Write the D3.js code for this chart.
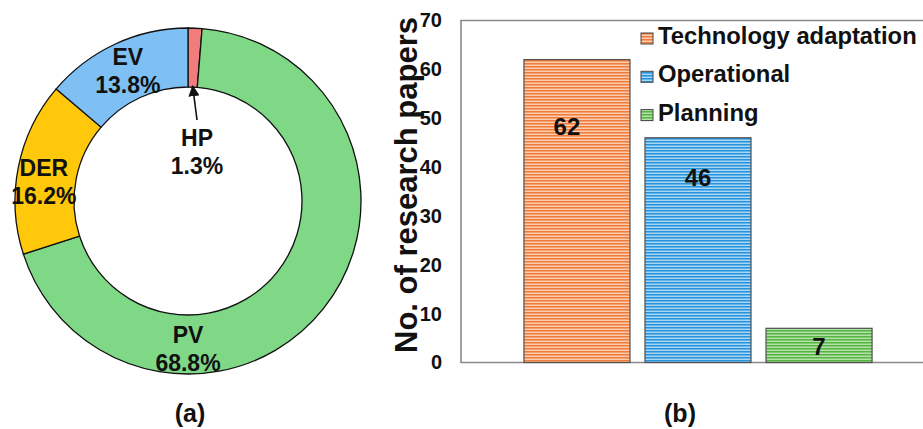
<!DOCTYPE html>
<html><head><meta charset="utf-8">
<script src="https://cdn.jsdelivr.net/npm/d3@7"></script>
<style>
html,body{margin:0;padding:0;background:#fff;}
svg{display:block;font-family:"Liberation Sans",Arial,sans-serif;font-weight:bold;}
.y-axis text{font-size:20px;font-weight:bold;font-family:"Liberation Sans",Arial,sans-serif;}
</style></head><body>
<svg id="chart" width="923" height="429"></svg>
<script>
// Panel (a): share of studies by resource type (percent)
const shareLabels = ["HP", "PV", "DER", "EV"];
const shareValues = [1.3, 68.8, 16.2, 13.8];
const shareColors = ["#F07C7C", "#7FD886", "#FFC80A", "#7FC0F4"];

// Panel (b): number of research papers per category
const paperCategories = ["Technology adaptation", "Operational", "Planning"];
const paperCounts = [62, 46, 7];
const yTicks = [0, 10, 20, 30, 40, 50, 60, 70];
// striped fills: [dark line, base, light line]
const stripeColors = [
  ["#EF7C3C", "#F5A271", "#FBCDAE"],
  ["#2A92DA", "#62B3E7", "#A9D6F2"],
  ["#56B443", "#82CB70", "#B6E1AA"]
];

(function () {
const svg = d3.select("#chart");
const defs = svg.append("defs");

// ---------- donut ----------
const cx = 188, cy = 201, rOut = 173, rIn = 114;
const pie = d3.pie().sort(null).value(d => d.v);
const arcs = pie(shareLabels.map((k, i) => ({k, v: shareValues[i], c: shareColors[i]})));
const arc = d3.arc().innerRadius(rIn).outerRadius(rOut);
const gA = svg.append("g").attr("transform", `translate(${cx},${cy})`);

gA.selectAll("path").data(arcs).join("path")
  .attr("d", arc)
  .attr("fill", d => d.data.c)
  .attr("stroke", "#111")
  .attr("stroke-width", 1.3);

function polar(angle, r) { return [r * Math.sin(angle), -r * Math.cos(angle)]; }

// label anchor for each slice
function labelPos(d) {
  const k = d.data.k;
  if (k === "PV") return polar(Math.PI, 147.5);
  if (k === "HP") return [9, -49];
  if (k === "DER") return polar(277.7 * Math.PI / 180, 145.5);
  return arc.centroid(d);
}

const lab = gA.selectAll("g.lab").data(arcs).join("g").attr("class", "lab")
  .attr("transform", d => `translate(${labelPos(d)})`);
lab.append("text").attr("text-anchor", "middle").attr("dominant-baseline", "central")
  .attr("y", -14).style("font-size", "23px").attr("fill", "#111").text(d => d.data.k);
lab.append("text").attr("text-anchor", "middle").attr("dominant-baseline", "central")
  .attr("y", 14).style("font-size", "23px").attr("fill", "#111").text(d => d.data.v.toFixed(1) + "%");

// arrow from the HP label to its thin slice
defs.append("marker").attr("id", "arrowHead").attr("viewBox", "0 0 10 10")
  .attr("refX", 9).attr("refY", 5).attr("markerWidth", 7).attr("markerHeight", 7)
  .attr("orient", "auto-start-reverse")
  .append("path").attr("d", "M0,0 L10,5 L0,10 Z").attr("fill", "#111");
const hp = arcs[0];
const tip = polar((hp.startAngle + hp.endAngle) / 2, rIn + 1);
gA.append("line").attr("x1", 9).attr("y1", -81).attr("x2", tip[0]).attr("y2", tip[1])
  .attr("stroke", "#111").attr("stroke-width", 1.6).attr("marker-end", "url(#arrowHead)");

svg.append("text").attr("x", 190).attr("y", 422).attr("text-anchor", "middle")
  .style("font-size", "25px").attr("fill", "#111").text("(a)");

// ---------- bar chart ----------
stripeColors.forEach((sc, i) => {
  const p = defs.append("pattern").attr("id", "stripe" + i)
    .attr("patternUnits", "userSpaceOnUse").attr("width", 8).attr("height", 3);
  p.append("rect").attr("width", 8).attr("height", 1).attr("y", 0).attr("fill", sc[0]);
  p.append("rect").attr("width", 8).attr("height", 1).attr("y", 1).attr("fill", sc[1]);
  p.append("rect").attr("width", 8).attr("height", 1).attr("y", 2).attr("fill", sc[2]);
});

const plotL = 461, plotR = 935, plotT = 20.5, plotB = 362.5;
const x = d3.scaleBand().domain(paperCategories).range([plotL, plotR])
  .paddingInner(0.124).paddingOuter(0.52);
const y = d3.scaleLinear().domain([0, 70]).range([plotB, plotT]);

// plot frame
svg.append("path")
  .attr("d", `M923,${plotT}H${plotL}V${plotB}H923`)
  .attr("fill", "none").attr("stroke", "#8a8a8a").attr("stroke-width", 1.6);

const gB = svg.append("g");
gB.selectAll("rect").data(paperCounts).join("rect")
  .attr("x", (d, i) => x(paperCategories[i]))
  .attr("y", d => y(d))
  .attr("width", x.bandwidth())
  .attr("height", d => y(0) - y(d))
  .attr("fill", (d, i) => `url(#stripe${i})`)
  .attr("stroke", "#505050").attr("stroke-width", 1.2);

// value labels, placed inside each bar
const labelDrop = [67, 40, 18];
const labelNudge = [-10, 0, 0];
gB.selectAll("text.val").data(paperCounts).join("text").attr("class", "val")
  .attr("x", (d, i) => x(paperCategories[i]) + x.bandwidth() / 2 + labelNudge[i])
  .attr("y", (d, i) => y(d) + labelDrop[i])
  .attr("text-anchor", "middle").attr("dominant-baseline", "central")
  .style("font-size", "24px").attr("fill", "#111").text(d => d);

const yAxis = svg.append("g").attr("class", "y-axis").attr("transform", `translate(${plotL},0)`)
  .call(d3.axisLeft(y).tickValues(yTicks).tickSize(0).tickPadding(19));
yAxis.select(".domain").remove();
yAxis.attr("font-size", 20).attr("font-family", "Liberation Sans, Arial, sans-serif");
yAxis.selectAll("text").attr("font-size", 20).attr("fill", "#111");

svg.append("text").attr("transform", "translate(417,185) rotate(-90)")
  .attr("text-anchor", "middle").style("font-size", "31px").attr("fill", "#111")
  .text("No. of research papers");

// legend
const leg = svg.append("g");
paperCategories.forEach((c, i) => {
  const base = 44 + i * 38.3;
  leg.append("rect").attr("x", 641).attr("y", base - 11).attr("width", 12).attr("height", 11)
    .attr("fill", `url(#stripe${i})`).attr("stroke", "#444").attr("stroke-width", 1);
  leg.append("text").attr("x", 658).attr("y", base).style("font-size", "23.8px")
    .attr("fill", "#111").text(c);
});

svg.append("text").attr("x", 680).attr("y", 422).attr("text-anchor", "middle")
  .style("font-size", "25px").attr("fill", "#111").text("(b)");
})();
</script>
</body></html>
